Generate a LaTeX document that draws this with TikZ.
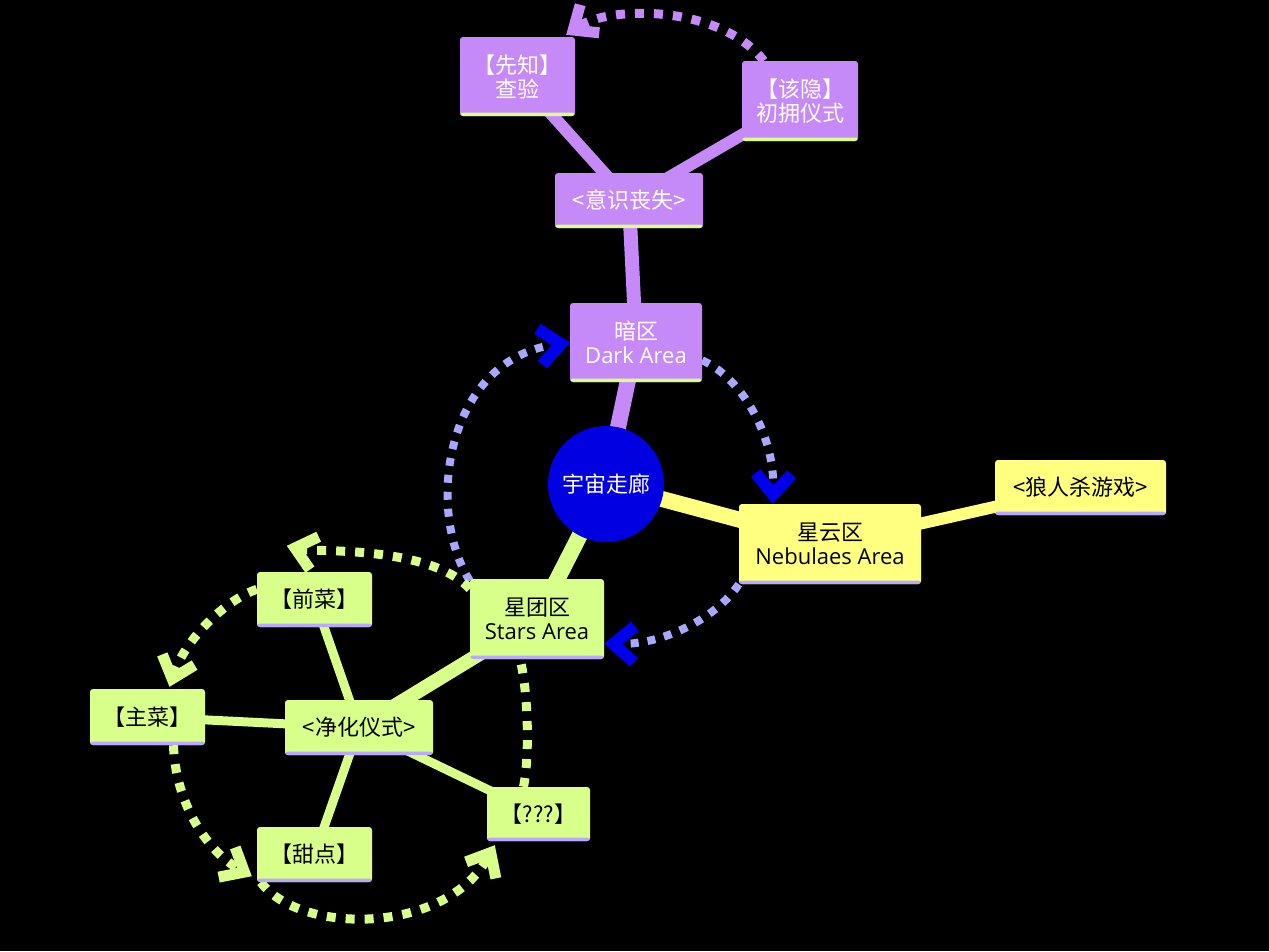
\documentclass[tikz,border=0pt]{standalone}
\usepackage{fontspec}
\setmainfont{Noto Sans CJK SC}
\newfontfamily\latin{Open Sans}
\usetikzlibrary{arrows.meta}
\pgfdeclarelayer{bg}
\pgfdeclarelayer{edges}
\pgfsetlayers{bg,edges,main}
\definecolor{pur}{HTML}{C68AF8}
\definecolor{yel}{HTML}{FFFF80}
\definecolor{grn}{HTML}{D8FF8A}
\definecolor{corecol}{HTML}{0000E0}
\definecolor{lav}{HTML}{A8A8FF}
\definecolor{arrblue}{HTML}{0000EE}
\definecolor{stripcol}{HTML}{B8A8FF}
\tikzset{
  box/.style={rectangle, rounded corners=3pt, inner sep=0pt, align=center,
    font=\fontsize{22}{24}\selectfont,
    path picture={\fill[#1] ([yshift=-1pt]path picture bounding box.south west) rectangle ([yshift=3.5pt]path picture bounding box.south east);}},
  pbox/.style={box=grn, fill=pur, text=white},
  ybox/.style={box=stripcol, fill=yel, text=black},
  gbox/.style={box=stripcol, fill=grn, text=black},
  conn/.style={line width=#1},
  dotb/.style={line width=8pt, lav, dash pattern=on 8pt off 9pt},
  dotg/.style={line width=9pt, grn, dash pattern=on 9pt off 10pt},
  dotp/.style={line width=9pt, pur, dash pattern=on 9pt off 10pt},
  bluetip/.tip={Straight Barb[length=21pt,width=36pt,line width=12pt,color=arrblue]},
  greentip/.tip={Straight Barb[length=20pt,width=34pt,line width=11pt,color=grn]},
  purtip/.tip={Straight Barb[length=20pt,width=34pt,line width=11pt,color=pur]},
}
\begin{document}
\begin{tikzpicture}[x=1pt,y=-1pt]
\begin{pgfonlayer}{bg}
\fill[black] (0,0) rectangle (1269,951);
\end{pgfonlayer}
\useasboundingbox (0,0) rectangle (1269,951);

% nodes
\node[pbox, minimum width=115pt, minimum height=79pt] (xz) at (517.5,76.5) {【先知】\\查验};
\node[pbox, minimum width=116pt, minimum height=80pt] (gy) at (800,101) {【该隐】\\初拥仪式};
\node[pbox, minimum width=148pt, minimum height=55pt] (ys) at (629,200.5) {<意识丧失>};
\node[pbox, minimum width=132pt, minimum height=79pt] (dark) at (636,342.5) {暗区\\{\latin Dark Area}};
\node[circle, fill=corecol, text=white, minimum size=116pt, inner sep=0pt, font=\fontsize{22}{24}\selectfont] (core) at (606,484) {宇宙走廊};
\node[ybox, minimum width=182pt, minimum height=80pt] (nb) at (830,544) {星云区\\{\latin Nebulaes Area}};
\node[ybox, minimum width=171pt, minimum height=55pt] (lr) at (1080.5,487.5) {<狼人杀游戏>};
\node[gbox, minimum width=134pt, minimum height=80pt] (xt) at (537,619) {星团区\\{\latin Stars Area}};
\node[gbox, minimum width=115pt, minimum height=55pt] (qc) at (314.5,599.5) {【前菜】};
\node[gbox, minimum width=115pt, minimum height=56pt] (zc) at (147.5,717) {【主菜】};
\node[gbox, minimum width=148pt, minimum height=55pt] (jh) at (359,727.5) {<净化仪式>};
\node[gbox, minimum width=103pt, minimum height=54pt] (qq) at (538.5,814) {【???】};
\node[gbox, minimum width=115pt, minimum height=55pt] (tx) at (314.5,854.5) {【甜点】};

\begin{pgfonlayer}{edges}
% solid connectors
\draw[conn=12pt, pur] (xz.center) -- (ys.center);
\draw[conn=12pt, pur] (gy.center) -- (ys.center);
\draw[conn=14pt, pur] (ys.center) -- (dark.center);
\draw[conn=16pt, pur] (dark.center) -- (core.center);
\draw[conn=16pt, yel] (core.center) -- (nb.center);
\draw[conn=12pt, yel] (nb.center) -- (lr.center);
\draw[conn=16pt, grn] (core.center) -- (xt.center);
\draw[conn=14pt, grn] (xt.center) -- (jh.center);
\draw[conn=9pt, grn] (jh.center) -- (qc.center);
\draw[conn=9pt, grn] (jh.center) -- (zc.center);
\draw[conn=9pt, grn] (jh.center) -- (tx.center);
\draw[conn=9pt, grn] (jh.center) -- (qq.center);

% dotted arcs
\draw[dotp, -{purtip}] ([xshift=22pt]gy.north west) .. controls (720,5) and (610,5) .. ([xshift=-9pt,yshift=2pt]xz.north east);
\draw[dotb, -{bluetip}] ([yshift=-2pt]xt.north west) .. controls (425,510) and (445,360) .. (dark.west);
\draw[dotb, -{bluetip}] (dark.-15) .. controls (745,380) and (775,440) .. (nb.145);
\draw[dotb, -{bluetip}] (nb.south west) .. controls (715,620) and (660,645) .. (xt.-20);
\draw[dotg, -{greentip}] ([yshift=-10pt]xt.north west) .. controls (430,545) and (310,552) .. ([xshift=30pt,yshift=26pt]qc.north west);
\draw[dotg, -{greentip}] (qc.170) .. controls (225,600) and (185,640) .. ([xshift=22pt,yshift=2pt]zc.north);
\draw[dotg, -{greentip}] ([xshift=26pt]zc.south) .. controls (175,800) and (205,850) .. ([xshift=-5pt,yshift=6pt]tx.south west);
\draw[dotg, -{greentip}] ([xshift=4pt]tx.south west) .. controls (300,935) and (445,935) .. ([xshift=8pt,yshift=-4pt]qq.south west);
\draw[dotg] ([xshift=-15pt]qq.north) .. controls (530,755) and (528,690) .. ([xshift=-17pt]xt.south);
\end{pgfonlayer}
\end{tikzpicture}
\end{document}
